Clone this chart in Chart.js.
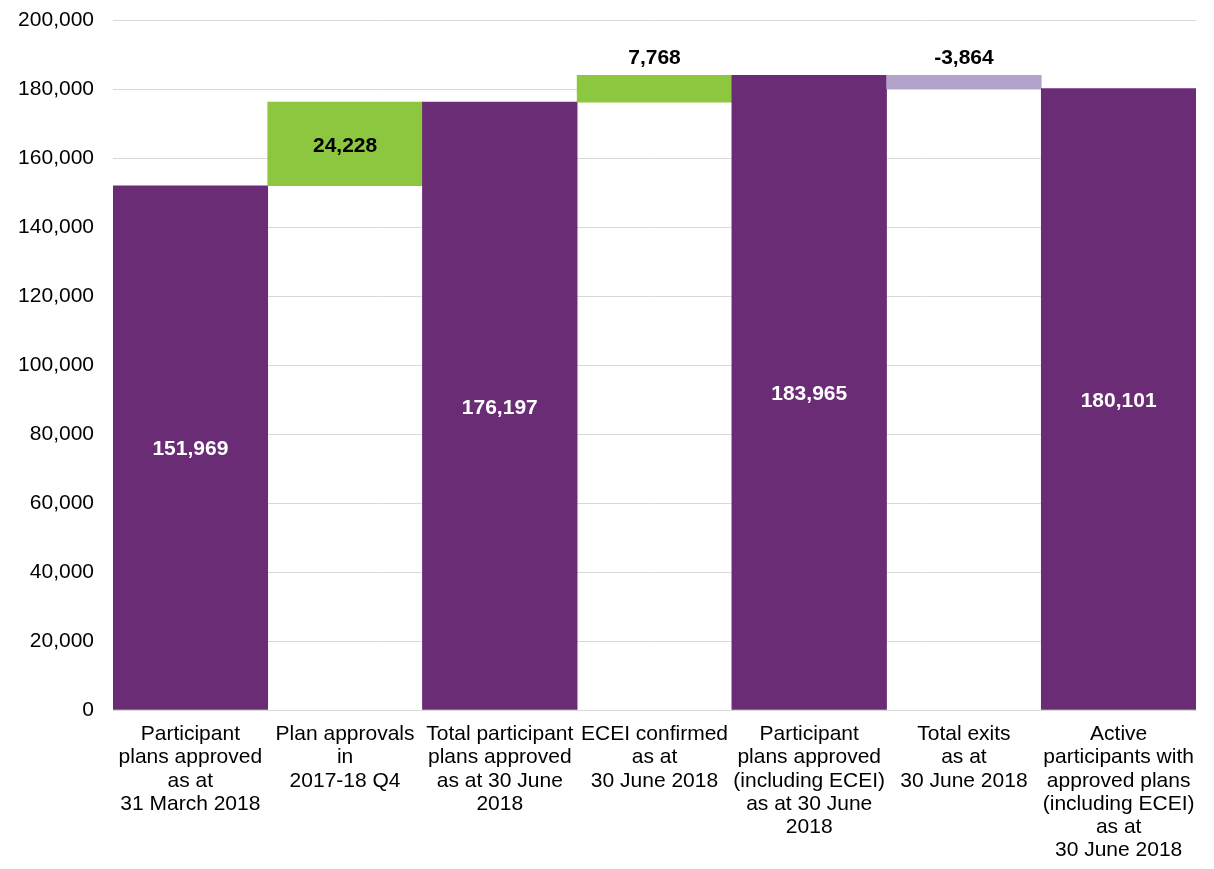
<!DOCTYPE html>
<html>
<head>
<meta charset="utf-8">
<title>Participant plans waterfall</title>
<script src="https://cdn.jsdelivr.net/npm/chart.js@4.4.1/dist/chart.umd.min.js"></script>
<style>
    html, body { margin: 0; padding: 0; background: #fff; }
    #wrap { width: 1214px; height: 869px; }
</style>
</head>
<body>
<div id="wrap"><canvas id="waterfallChart"></canvas></div>
<script>
// Category labels (already wrapped as in the picture)
const categories = [
    ['Participant', 'plans approved', 'as at', '31 March 2018'],
    ['Plan approvals', 'in', '2017-18 Q4'],
    ['Total participant', 'plans approved', 'as at 30 June', '2018'],
    ['ECEI confirmed', 'as at', '30 June 2018'],
    ['Participant', 'plans approved', '(including ECEI)', 'as at 30 June', '2018'],
    ['Total exits', 'as at', '30 June 2018'],
    ['Active', 'participants with', 'approved plans', '(including ECEI)', 'as at', '30 June 2018']
];

// Floating bar bounds
const barStarts = [0, 151969, 0, 176197, 0, 180101, 0];
const barEnds   = [151969, 176197, 176197, 183965, 183965, 183965, 180101];

// Values printed on the bars
const labelValues = [151969, 24228, 176197, 7768, 183965, -3864, 180101];

// Y axis ticks
const yTicks = [0, 20000, 40000, 60000, 80000, 100000, 120000, 140000, 160000, 180000, 200000];

const PURPLE = '#6b2c76';
const GREEN = '#8dc63f';
const LILAC = '#b3a2c9';
const barColors = [PURPLE, GREEN, PURPLE, GREEN, PURPLE, LILAC, PURPLE];
const labelColors = ['#fff', '#000', '#fff', '#000', '#fff', '#000', '#fff'];

const FONT = '"Liberation Sans", Arial, sans-serif';

/**
 * Draws the value labels: in the middle of tall bars, above short ones
 */
const barLabels = {
    id: 'barLabels',
    afterDatasetsDraw(chart) {
        const ctx = chart.ctx;
        const meta = chart.getDatasetMeta(0);
        ctx.save();
        ctx.font = 'bold 21px ' + FONT;
        ctx.textAlign = 'center';
        ctx.textBaseline = 'middle';
        meta.data.forEach((bar, i) => {
            const top = Math.min(bar.y, bar.base);
            const bottom = Math.max(bar.y, bar.base);
            let y = (top + bottom) / 2 + 2;
            if (bottom - top < 40) y = top - 17;
            ctx.fillStyle = labelColors[i];
            ctx.fillText(labelValues[i].toLocaleString('en-US'), bar.x, y);
        });
        ctx.restore();
    }
};

const ctx = document.getElementById('waterfallChart').getContext('2d');
new Chart(ctx, {
    type: 'bar',
    data: {
        labels: categories,
        datasets: [{
            data: barStarts.map((s, i) => [s, barEnds[i]]),
            backgroundColor: barColors,
            borderWidth: 0,
            categoryPercentage: 1.0,
            barPercentage: 1.0
        }]
    },
    options: {
        responsive: true,
        maintainAspectRatio: false,
        animation: false,
        layout: { padding: { top: 0, right: 18, left: 0, bottom: 0 } },
        plugins: {
            legend: { display: false },
            tooltip: { enabled: false }
        },
        scales: {
            x: {
                grid: { display: false, drawTicks: false },
                border: { display: true, color: '#d9d9d9', width: 1 },
                ticks: {
                    color: '#000',
                    padding: 13,
                    maxRotation: 0,
                    autoSkip: false,
                    font: { family: FONT, size: 21, lineHeight: 1.1 }
                },
                afterFit(scale) { scale.height = 159; }
            },
            y: {
                min: 0,
                max: 200000,
                afterBuildTicks(scale) { scale.ticks = yTicks.map(v => ({ value: v })); },
                grid: { color: '#d9d9d9', drawTicks: false },
                border: { display: false },
                ticks: {
                    color: '#000',
                    padding: 19,
                    // small line height keeps the top edge at 20px (single-line labels draw the same)
                    font: { family: FONT, size: 21, lineHeight: 0.1 },
                    callback: v => v.toLocaleString('en-US')
                },
                afterFit(scale) { scale.width = 113; }
            }
        }
    },
    plugins: [barLabels]
});
</script>
</body>
</html>
